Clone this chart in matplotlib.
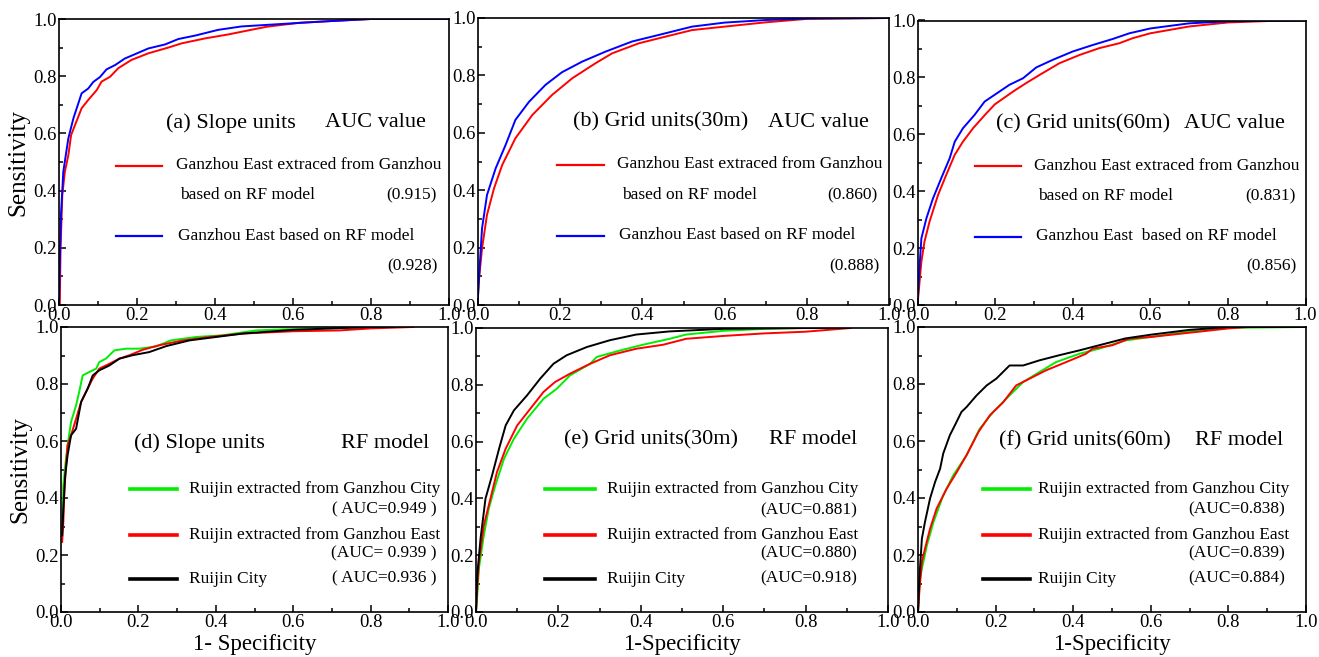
import matplotlib
matplotlib.use('Agg')
import matplotlib.pyplot as plt
from matplotlib.ticker import MultipleLocator, FormatStrFormatter

plt.rcParams['font.family'] = ['Liberation Serif', 'DejaVu Serif']

# ---- data ----
# (a) slope units
a_red_x = [0, 0.002, 0.004, 0.0085, 0.015, 0.024, 0.031, 0.041, 0.058, 0.075, 0.097, 0.109, 0.131, 0.152, 0.186, 0.229, 0.28, 0.315, 0.374, 0.434, 0.503, 0.533, 0.618, 0.7, 0.8, 1.0]
a_red_y = [0, 0.0, 0.198, 0.385, 0.466, 0.524, 0.594, 0.629, 0.688, 0.717, 0.752, 0.781, 0.798, 0.828, 0.857, 0.88, 0.9, 0.915, 0.932, 0.946, 0.965, 0.973, 0.987, 0.993, 1.0, 1.0]
a_blue_x = [0, 0.003, 0.005, 0.011, 0.024, 0.037, 0.058, 0.075, 0.088, 0.105, 0.122, 0.144, 0.169, 0.195, 0.229, 0.272, 0.306, 0.349, 0.408, 0.468, 0.6, 0.7, 0.8, 1.0]
a_blue_y = [0, 0.2, 0.315, 0.466, 0.583, 0.653, 0.74, 0.757, 0.78, 0.797, 0.824, 0.839, 0.862, 0.877, 0.897, 0.911, 0.93, 0.942, 0.962, 0.974, 0.985, 0.993, 1.0, 1.0]

# (b) grid units 30m
b_red_x = [0, 0.003, 0.011, 0.023, 0.04, 0.06, 0.092, 0.133, 0.181, 0.23, 0.286, 0.327, 0.392, 0.456, 0.521, 0.6, 0.7, 0.8, 1.0]
b_red_y = [0, 0.081, 0.197, 0.314, 0.406, 0.488, 0.581, 0.662, 0.732, 0.79, 0.842, 0.877, 0.912, 0.935, 0.958, 0.97, 0.985, 0.997, 1.0]
b_blue_x = [0, 0.005, 0.011, 0.023, 0.044, 0.068, 0.092, 0.125, 0.165, 0.205, 0.254, 0.311, 0.375, 0.44, 0.521, 0.6, 0.7, 0.8, 1.0]
b_blue_y = [0, 0.128, 0.267, 0.383, 0.476, 0.557, 0.645, 0.708, 0.767, 0.811, 0.848, 0.883, 0.918, 0.941, 0.97, 0.984, 0.993, 0.998, 1.0]

# (c) grid units 60m
c_red_x = [0, 0.003, 0.01, 0.018, 0.031, 0.053, 0.074, 0.096, 0.117, 0.143, 0.173, 0.199, 0.246, 0.28, 0.315, 0.366, 0.418, 0.469, 0.52, 0.555, 0.6, 0.7, 0.8, 0.9, 1.0]
c_red_y = [0, 0.047, 0.152, 0.223, 0.293, 0.387, 0.457, 0.528, 0.574, 0.621, 0.667, 0.705, 0.75, 0.78, 0.809, 0.85, 0.879, 0.903, 0.92, 0.938, 0.955, 0.979, 0.993, 0.998, 1.0]
c_blue_x = [0, 0.005, 0.01, 0.023, 0.04, 0.061, 0.083, 0.096, 0.117, 0.147, 0.173, 0.199, 0.237, 0.272, 0.306, 0.349, 0.4, 0.452, 0.503, 0.546, 0.6, 0.7, 0.8, 0.9, 1.0]
c_blue_y = [0, 0.129, 0.234, 0.305, 0.375, 0.445, 0.516, 0.574, 0.621, 0.668, 0.715, 0.739, 0.774, 0.797, 0.835, 0.862, 0.891, 0.914, 0.935, 0.955, 0.972, 0.99, 0.997, 0.999, 1.0]

# (d) slope units, Ruijin
d_green_x = [0.004, 0.006, 0.011, 0.017, 0.026, 0.039, 0.047, 0.056, 0.073, 0.091, 0.099, 0.116, 0.138, 0.168, 0.203, 0.246, 0.284, 0.349, 0.418, 0.504, 0.583, 0.8, 0.9]
d_green_y = [0.292, 0.444, 0.515, 0.585, 0.667, 0.725, 0.772, 0.83, 0.842, 0.854, 0.877, 0.889, 0.918, 0.924, 0.924, 0.932, 0.953, 0.965, 0.971, 0.988, 0.992, 1.0, 1.0]
d_red_x = [0.003, 0.006, 0.009, 0.013, 0.017, 0.026, 0.039, 0.052, 0.069, 0.082, 0.099, 0.125, 0.151, 0.177, 0.211, 0.254, 0.315, 0.384, 0.47, 0.6, 0.72, 0.8, 0.91]
d_red_y = [0.246, 0.316, 0.433, 0.515, 0.585, 0.62, 0.678, 0.737, 0.784, 0.819, 0.854, 0.871, 0.889, 0.901, 0.92, 0.936, 0.953, 0.965, 0.977, 0.985, 0.988, 0.995, 1.0]
d_black_x = [0.003, 0.006, 0.011, 0.017, 0.026, 0.039, 0.052, 0.069, 0.082, 0.099, 0.125, 0.151, 0.185, 0.228, 0.272, 0.332, 0.401, 0.47, 0.6, 0.8, 0.86]
d_black_y = [0.269, 0.363, 0.48, 0.55, 0.62, 0.643, 0.737, 0.784, 0.83, 0.848, 0.865, 0.889, 0.901, 0.912, 0.933, 0.953, 0.965, 0.977, 0.99, 1.0, 1.0]

# (e) grid units 30m, Ruijin
e_green_x = [0, 0.002, 0.007, 0.019, 0.031, 0.047, 0.068, 0.092, 0.124, 0.164, 0.196, 0.228, 0.277, 0.293, 0.35, 0.405, 0.47, 0.51, 0.6, 0.7, 0.8, 0.9]
e_green_y = [0, 0.035, 0.153, 0.27, 0.364, 0.446, 0.54, 0.61, 0.681, 0.751, 0.786, 0.833, 0.874, 0.898, 0.921, 0.941, 0.962, 0.977, 0.99, 0.997, 1.0, 1.0]
e_red_x = [0, 0.002, 0.007, 0.019, 0.035, 0.051, 0.072, 0.1, 0.132, 0.164, 0.192, 0.228, 0.277, 0.325, 0.389, 0.454, 0.51, 0.6, 0.7, 0.8, 0.91]
e_red_y = [0, 0.059, 0.176, 0.305, 0.399, 0.493, 0.575, 0.657, 0.716, 0.775, 0.81, 0.839, 0.874, 0.904, 0.927, 0.941, 0.962, 0.972, 0.981, 0.987, 1.0]
e_black_x = [0, 0.003, 0.011, 0.023, 0.039, 0.056, 0.072, 0.092, 0.124, 0.156, 0.188, 0.22, 0.269, 0.325, 0.389, 0.47, 0.6, 0.8, 0.9]
e_black_y = [0, 0.129, 0.258, 0.399, 0.481, 0.575, 0.657, 0.71, 0.763, 0.822, 0.874, 0.904, 0.933, 0.957, 0.977, 0.988, 0.997, 1.0, 1.0]

# (f) grid units 60m, Ruijin
f_green_x = [0, 0.004, 0.01, 0.023, 0.04, 0.065, 0.091, 0.125, 0.159, 0.194, 0.236, 0.271, 0.313, 0.356, 0.416, 0.467, 0.535, 0.6, 0.7, 0.8, 1.0]
f_green_y = [0, 0.105, 0.152, 0.234, 0.316, 0.409, 0.48, 0.55, 0.643, 0.702, 0.76, 0.807, 0.842, 0.877, 0.906, 0.924, 0.953, 0.965, 0.985, 0.997, 1.0]
f_red_x = [0, 0.004, 0.01, 0.018, 0.031, 0.048, 0.074, 0.1, 0.125, 0.156, 0.185, 0.219, 0.253, 0.288, 0.33, 0.382, 0.433, 0.45, 0.501, 0.544, 0.6, 0.7, 0.8, 0.85, 1.0]
f_red_y = [0, 0.082, 0.175, 0.222, 0.292, 0.363, 0.433, 0.491, 0.55, 0.632, 0.69, 0.735, 0.795, 0.819, 0.848, 0.877, 0.906, 0.924, 0.936, 0.959, 0.965, 0.98, 0.995, 1.0, 1.0]
f_black_x = [0, 0.004, 0.01, 0.018, 0.031, 0.044, 0.057, 0.065, 0.082, 0.095, 0.112, 0.125, 0.151, 0.177, 0.202, 0.236, 0.271, 0.313, 0.364, 0.416, 0.467, 0.535, 0.6, 0.7, 0.8, 1.0]
f_black_y = [0, 0.129, 0.257, 0.316, 0.398, 0.456, 0.503, 0.556, 0.62, 0.655, 0.702, 0.719, 0.76, 0.795, 0.819, 0.865, 0.865, 0.883, 0.901, 0.918, 0.936, 0.96, 0.973, 0.99, 1.0, 1.0]

top_auc = [['(0.915)', '(0.928)'], ['(0.860)', '(0.888)'], ['(0.831)', '(0.856)']]
bot_auc = [['( AUC=0.949 )', '(AUC= 0.939 )', '( AUC=0.936 )'],
           ['(AUC=0.881)', '(AUC=0.880)', '(AUC=0.918)'],
           ['(AUC=0.838)', '(AUC=0.839)', '(AUC=0.884)']]

RED = '#ff0000'
BLUE = '#0000ff'
GREEN = '#00ee00'
BLACK = '#000000'

W, H = 1319, 657
fig = plt.figure(figsize=(W / 100, H / 100), dpi=100)


def px_axes(x0, x1, ytop, ybot):
    return fig.add_axes([x0 / W, (H - ybot) / H, (x1 - x0) / W, (ybot - ytop) / H])


def style(ax):
    ax.set_xlim(0, 1)
    ax.set_ylim(0, 1)
    for s in ax.spines.values():
        s.set_linewidth(1.2)
    ax.xaxis.set_major_locator(MultipleLocator(0.2))
    ax.xaxis.set_minor_locator(MultipleLocator(0.1))
    ax.yaxis.set_major_locator(MultipleLocator(0.2))
    ax.yaxis.set_minor_locator(MultipleLocator(0.1))
    ax.xaxis.set_major_formatter(FormatStrFormatter('%.1f'))
    ax.yaxis.set_major_formatter(FormatStrFormatter('%.1f'))
    ax.tick_params(which='both', direction='in', labelsize=13.5, width=1.1)
    ax.tick_params(which='major', length=5, pad=1.5)
    ax.tick_params(which='minor', length=3)


def tx(ax, x, y, s, size=12.5, ha='left'):
    ax.text(x, y, s, transform=ax.transAxes, fontsize=size, ha=ha, va='center')


def sample(ax, x0, x1, y, color, lw):
    ax.plot([x0, x1], [y, y], color=color, lw=lw, transform=ax.transAxes, clip_on=False)


# ---------------- top row ----------------
ax_a = px_axes(59, 449, 19, 305)
ax_b = px_axes(477.5, 889.5, 18, 305)
ax_c = px_axes(917.5, 1305.5, 20.5, 305)
top = [ax_a, ax_b, ax_c]
top_red = [(a_red_x, a_red_y), (b_red_x, b_red_y), (c_red_x, c_red_y)]
top_blue = [(a_blue_x, a_blue_y), (b_blue_x, b_blue_y), (c_blue_x, c_blue_y)]
top_head = [('(a) Slope units', 0.274, 0.682), ('(b) Grid units(30m)', 0.231, 0.706),
            ('(c) Grid units(60m)', 0.2015, 0.687)]
top_leg = [  # line start, line end, text x, second line x, auc right
    (0.145, 0.265, 0.30, 0.311, 0.968),
    (0.192, 0.306, 0.338, 0.35, 0.972),
    (0.148, 0.268, 0.30, 0.311, 0.974),
]
blue_names = ['Ganzhou East based on RF model', 'Ganzhou East based on RF model',
              'Ganzhou East  based on RF model']

for i, ax in enumerate(top):
    style(ax)
    ax.plot(*top_red[i], color=RED, lw=1.4)
    ax.plot(*top_blue[i], color=BLUE, lw=1.4)
    head, hx, ax2 = top_head[i]
    tx(ax, hx, 0.637, head, size=16)
    tx(ax, ax2, 0.637, 'AUC value', size=16)
    l0, l1, t0, t1, r = top_leg[i]
    sample(ax, l0, l1, 0.487, RED, 1.6)
    tx(ax, t0, 0.49, 'Ganzhou East extraced from Ganzhou')
    tx(ax, t1, 0.383, 'based on RF model')
    tx(ax, r, 0.383, top_auc[i][0], ha='right')
    sample(ax, l0, l1, 0.24, BLUE, 1.6)
    tx(ax, t0 + 0.005, 0.243, blue_names[i])
    tx(ax, r + 0.004, 0.136, top_auc[i][1], ha='right')

ax_a.set_ylabel('Sensitivity', fontsize=18, labelpad=3)

# ---------------- bottom row ----------------
ax_d = px_axes(61, 448, 327, 612)
ax_e = px_axes(476, 888, 328, 612)
ax_f = px_axes(918, 1306, 327, 612)
bot = [ax_d, ax_e, ax_f]
bot_curves = [
    [(d_green_x, d_green_y), (d_red_x, d_red_y), (d_black_x, d_black_y)],
    [(e_green_x, e_green_y), (e_red_x, e_red_y), (e_black_x, e_black_y)],
    [(f_green_x, f_green_y), (f_red_x, f_red_y), (f_black_x, f_black_y)],
]
bot_head = [('(d) Slope units', 0.189, 0.723, 0.592), ('(e) Grid units(30m)', 0.214, 0.712, 0.606),
            ('(f) Grid units(60m)', 0.209, 0.714, 0.601)]
bot_leg = [(0.178, 0.30, 0.332, 0.971), (0.167, 0.289, 0.319, 0.924), (0.168, 0.289, 0.309, 0.946)]
bot_names = ['Ruijin extracted from Ganzhou City', 'Ruijin extracted from Ganzhou East', 'Ruijin City']
bot_colors = [GREEN, RED, BLACK]
bot_xlabels = ['1- Specificity', '1-Specificity', '1-Specificity']

for i, ax in enumerate(bot):
    style(ax)
    for (xs, ys), c in zip(bot_curves[i], bot_colors):
        ax.plot(xs, ys, color=c, lw=1.4)
    head, hx, ax2, hy = bot_head[i]
    tx(ax, hx, hy, head, size=16)
    tx(ax, ax2, hy, 'RF model', size=16)
    l0, l1, t0, r = bot_leg[i]
    for k, (ly, ay) in enumerate([(0.432, 0.359), (0.27, 0.205), (0.117, 0.117)]):
        sample(ax, l0, l1, ly, bot_colors[k], 2.6)
        tx(ax, t0, ly, bot_names[k])
        tx(ax, r, ay, bot_auc[i][k], ha='right')
    ax.set_xlabel(bot_xlabels[i], fontsize=16.5, labelpad=2)

ax_d.set_ylabel('Sensitivity', fontsize=18, labelpad=3)

fig.savefig('out.png', dpi=100)
